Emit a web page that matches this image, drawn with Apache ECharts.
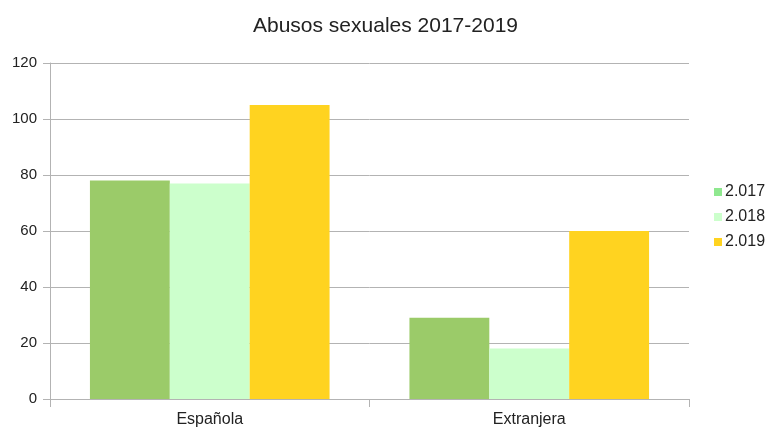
<!DOCTYPE html>
<html>
<head>
<meta charset="utf-8">
<script src="https://cdn.jsdelivr.net/npm/echarts@6/dist/echarts.min.js"></script>
<style>
  html, body { margin: 0; padding: 0; background: #fff; }
  #chart { width: 771px; height: 431px; }
</style>
</head>
<body>
<div id="chart"></div>
<script>
// datos
var categorias = ['Española', 'Extranjera'];
var anios = ['2.017', '2.018', '2.019'];
var valores2017 = [78, 29];
var valores2018 = [77, 18];
var valores2019 = [105, 60];

var coloresBarra = ['#9bcb69', '#ccffcc', '#ffd320'];
var coloresLeyenda = ['#8fe88f', '#ccffcc', '#ffd320'];
var series = [valores2017, valores2018, valores2019];

var myChart = echarts.init(document.getElementById('chart'));

var option = {
  animation: false,
  textStyle: { fontFamily: 'Liberation Sans' },
  title: {
    text: 'Abusos sexuales 2017-2019',
    left: 'center',
    top: 11,
    textStyle: { fontSize: 21, fontWeight: 'normal', color: '#222', fontFamily: 'Liberation Sans' }
  },
  legend: {
    orient: 'vertical',
    left: 709,
    top: 179,
    itemWidth: 8,
    itemHeight: 8,
    itemGap: 9,
    icon: 'rect',
    textStyle: { fontSize: 16, color: '#222', padding: [0, 0, 0, -2] },
    data: anios.map(function (a, i) {
      return { name: a, itemStyle: { color: coloresLeyenda[i] } };
    })
  },
  grid: { left: 50, right: 82, top: 63, bottom: 32 },
  xAxis: {
    type: 'category',
    data: categorias,
    axisLine: { lineStyle: { color: '#b3b3b3' } },
    axisTick: { show: true, length: 8, lineStyle: { color: '#b3b3b3' } },
    axisLabel: { fontSize: 16, color: '#222', margin: 13 }
  },
  yAxis: {
    type: 'value',
    min: 0,
    max: 120,
    interval: 20,
    axisLine: { show: true, lineStyle: { color: '#b3b3b3' } },
    axisTick: { show: true, length: 7, lineStyle: { color: '#b3b3b3' } },
    axisLabel: { fontSize: 15, color: '#222', margin: 13 },
    splitLine: { lineStyle: { color: '#b3b3b3' } }
  },
  series: series.map(function (vals, i) {
    return {
      name: anios[i],
      type: 'bar',
      data: vals,
      barGap: '0%',
      barCategoryGap: '25%',
      itemStyle: { color: coloresBarra[i] }
    };
  })
};

myChart.setOption(option);
</script>
</body>
</html>
